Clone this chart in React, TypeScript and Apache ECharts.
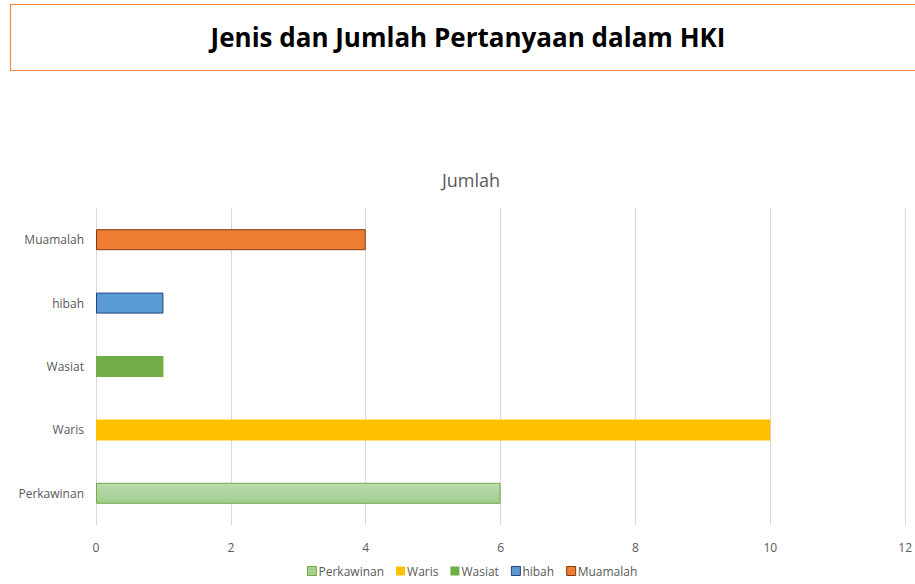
import React, { useEffect, useRef } from "react";
import * as echarts from "echarts";

const categories = ["Perkawinan", "Waris", "Wasiat", "hibah", "Muamalah"];
const values = [6, 10, 1, 1, 4];
const xTicks = [0, 2, 4, 6, 8, 10, 12];

const fills: any[] = [
  new echarts.graphic.LinearGradient(0, 0, 0, 1, [
    { offset: 0, color: "#bcdbaf" },
    { offset: 1, color: "#a2cb8d" },
  ]),
  "#FFC000",
  "#70AD47",
  "#5B9BD5",
  "#ED7D31",
];
const borders = ["#70AD47", null, null, "#264478", "#843C0C"];
const legendFills = ["#a9d18e", "#FFC000", "#70AD47", "#5B9BD5", "#ED7D31"];

export default function App() {
  const ref = useRef<HTMLDivElement>(null);
  useEffect(() => {
    const chart = echarts.init(ref.current!, null, { renderer: "svg" });
    const font = "'Open Sans', sans-serif";
    const series = categories.map((c, i) => ({
      name: c,
      type: "bar",
      stack: "all",
      barWidth: 21,
      data: categories.map((_, j) => (j === i ? values[i] : null)),
      itemStyle: {
        color: fills[i],
        borderColor: borders[i] || undefined,
        borderWidth: borders[i] ? 1 : 0,
      },
    }));
    chart.setOption({
      animation: false,
      textStyle: { fontFamily: font },
      title: {
        text: "Jumlah",
        left: 437,
        top: 166,
        textStyle: { fontSize: 18, fontWeight: "normal", color: "#595959", fontFamily: font },
      },
      graphic: [
        {
          type: "rect",
          shape: { x: 10.5, y: 4.5, width: 930, height: 66 },
          style: { fill: "#fff", stroke: "#EE8A4C", lineWidth: 1.2 },
        },
        {
          type: "text",
          x: 468,
          y: 37,
          style: {
            text: "Jenis dan Jumlah Pertanyaan dalam HKI",
            fontSize: 26,
            fontWeight: "bold",
            fontFamily: font,
            fill: "#000",
            align: "center",
            verticalAlign: "middle",
          },
        },
      ],
      legend: {
        bottom: 2,
        left: 302,
        itemWidth: 9,
        itemHeight: 9,
        itemGap: 12,
        icon: "rect",
        textStyle: { fontSize: 12, color: "#595959", fontFamily: font, padding: [0, 0, 0, -3] },
        data: categories.map((c, i) => ({
          name: c,
          itemStyle: {
            color: legendFills[i],
            borderColor: borders[i] || legendFills[i],
            borderWidth: borders[i] ? 1 : 0,
          },
        })),
      },
      grid: { left: 96, right: 2, top: 208, bottom: 59 },
      xAxis: {
        type: "value",
        min: xTicks[0],
        max: xTicks[xTicks.length - 1],
        interval: 2,
        axisLine: { show: false },
        axisTick: { show: false },
        axisLabel: { fontSize: 12, color: "#595959", margin: 16, fontFamily: font },
        splitLine: { lineStyle: { color: "#d9d9d9" } },
      },
      yAxis: {
        type: "category",
        data: categories,
        axisLine: { show: false },
        axisTick: { show: false },
        axisLabel: { fontSize: 12, color: "#595959", margin: 12, fontFamily: font },
      },
      series,
    });
    return () => chart.dispose();
  }, []);
  return <div ref={ref} style={{ width: 915, height: 584, position: "absolute", left: 0, top: 0 }} />;
}
